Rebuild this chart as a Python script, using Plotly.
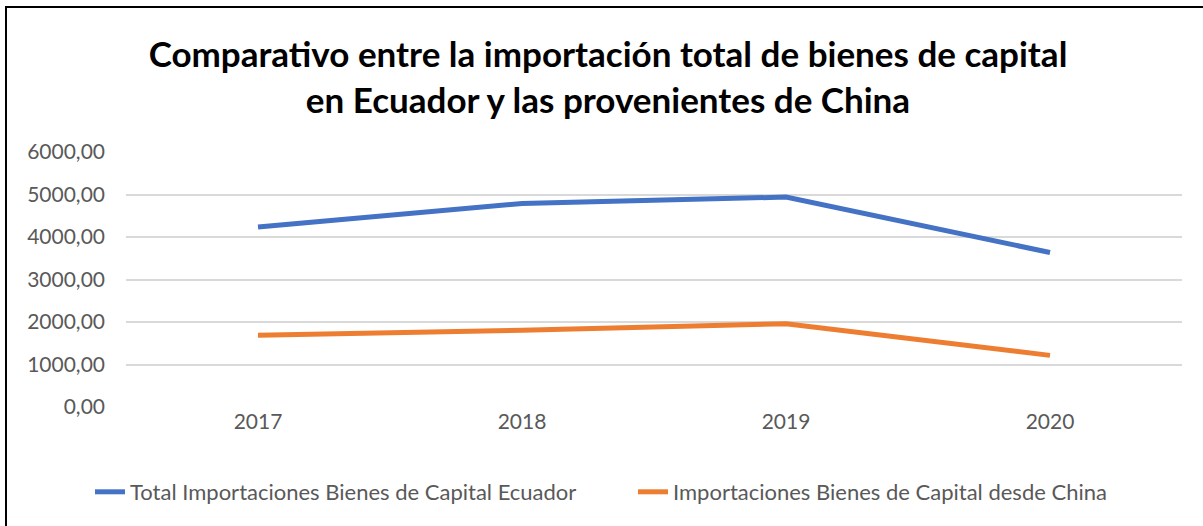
import plotly.graph_objects as go

years = ["2017", "2018", "2019", "2020"]
total_ecuador = [4235, 4790, 4940, 3635]
desde_china = [1690, 1805, 1960, 1215]
y_ticks = [0, 1000, 2000, 3000, 4000, 5000, 6000]
y_tick_text = ["0,00", "1000,00", "2000,00", "3000,00", "4000,00", "5000,00", "6000,00"]

W, H = 1203, 526
ML, MR, MT, MB = 126, 21, 152, 119
pw, ph = W - ML - MR, H - MT - MB

fig = go.Figure()
fig.add_trace(go.Scatter(
    x=years, y=total_ecuador, mode="lines",
    name="Total Importaciones Bienes de Capital Ecuador",
    line=dict(color="#4472C4", width=5),
))
fig.add_trace(go.Scatter(
    x=years, y=desde_china, mode="lines",
    name="Importaciones Bienes de Capital desde China",
    line=dict(color="#ED7D31", width=5),
))

font_fam = "Lato, 'Open Sans', sans-serif"
fig.update_layout(
    width=W, height=H,
    margin=dict(l=ML, r=MR, t=MT, b=MB),
    paper_bgcolor="white", plot_bgcolor="white",
    font=dict(family=font_fam, color="#595959", size=21),
    title=dict(
        text="Comparativo entre la importación total de bienes de capital<br>en Ecuador y las provenientes de China",
        x=(608 - ML) / pw, xref="paper", xanchor="center", y=0.872, yanchor="top",
        font=dict(family=font_fam, size=35, color="black", weight="bold"),
    ),
    xaxis=dict(
        type="category", range=[-0.5, 3.5], showgrid=False, showline=False,
        ticks="", tickfont=dict(size=21, color="#595959"), automargin=False,
    ),
    yaxis=dict(
        range=[0, 6000], tickvals=y_ticks, ticktext=y_tick_text,
        showgrid=True, gridcolor="#D9D9D9", gridwidth=1.5,
        zeroline=False, showline=False, ticks="", ticklabelstandoff=20,
        tickfont=dict(size=21, color="#595959"), automargin=False,
    ),
    legend=dict(
        orientation="h", x=(90 - ML) / pw, xanchor="left", y=-(492 - (MT + ph)) / ph,
        yanchor="middle", font=dict(size=22, color="#595959"),
        tracegroupgap=0, entrywidth=498, entrywidthmode="pixels",
    ),
    showlegend=True,
)

# black chart border
fig.add_shape(
    type="rect", xref="paper", yref="paper",
    x0=(6 - ML) / pw, x1=(W + 4 - ML) / pw,
    y0=(H - MB - (H + 4)) / ph, y1=(H - MB - 7) / ph,
    line=dict(color="black", width=2), fillcolor="rgba(0,0,0,0)", layer="above",
)

fig.write_html(
    "out.html",
    config={"displayModeBar": False},
    post_script="document.body.style.margin='0px';",
)
